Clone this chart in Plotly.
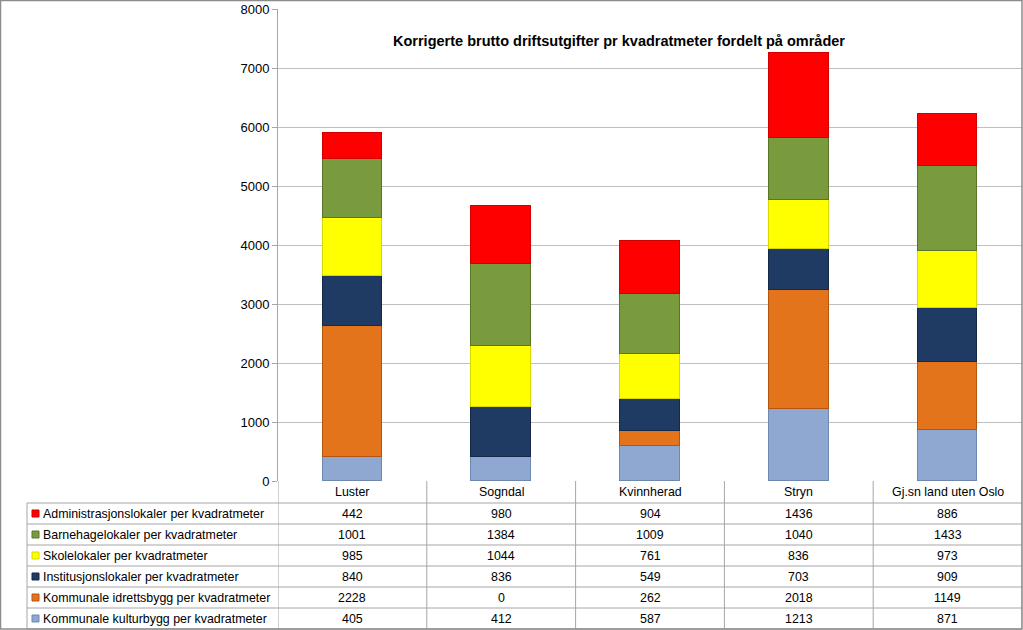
import plotly.graph_objects as go

# ---- data ----
categories = ["Luster", "Sogndal", "Kvinnherad", "Stryn", "Gj.sn land uten Oslo"]
kulturbygg = [405, 412, 587, 1213, 871]
idrettsbygg = [2228, 0, 262, 2018, 1149]
institusjon = [840, 836, 549, 703, 909]
skole = [985, 1044, 761, 836, 973]
barnehage = [1001, 1384, 1009, 1040, 1433]
administrasjon = [442, 980, 904, 1436, 886]

series_names = [
    "Kommunale kulturbygg per kvadratmeter",
    "Kommunale idrettsbygg per kvadratmeter",
    "Institusjonslokaler per kvadratmeter",
    "Skolelokaler per kvadratmeter",
    "Barnehagelokaler per kvadratmeter",
    "Administrasjonslokaler per kvadratmeter",
]
series_values = [kulturbygg, idrettsbygg, institusjon, skole, barnehage, administrasjon]
series_colors = ["#8FA8D2", "#E4741B", "#1F3A63", "#FFFF00", "#7A9A3E", "#FF0000"]
series_lines = ["#6F88B2", "#B5560E", "#142848", "#D8D800", "#5A7428", "#D00000"]

title_text = "Korrigerte brutto driftsutgifter pr kvadratmeter fordelt på områder"
ytick_vals = [0, 1000, 2000, 3000, 4000, 5000, 6000, 7000, 8000]

# ---- layout geometry (pixels) ----
W, H = 1023, 630
plot_left, plot_right = 278, 1022
plot_top, plot_bottom = 9, 481
table_left = 27
row_h = 21
header_bottom = 503
grid_col = "#A6A6A6"
font_family = "Liberation Sans, Arial, sans-serif"
fs = 12.4


def px(x):
    return x / W


def py(y):
    return 1 - y / H


fig = go.Figure()
for name, vals, col, lc in zip(series_names, series_values, series_colors, series_lines):
    fig.add_trace(go.Bar(
        x=categories, y=vals, name=name, width=0.4,
        marker=dict(color=col, line=dict(color=lc, width=1)),
    ))

shapes = []
annotations = []

# table horizontal lines
n_rows = len(series_names)
for i in range(n_rows + 1):
    y = header_bottom + i * row_h
    shapes.append(dict(type="line", xref="paper", yref="paper",
                       x0=px(table_left), x1=px(plot_right), y0=py(y), y1=py(y),
                       line=dict(color=grid_col, width=1)))
# table left border
shapes.append(dict(type="line", xref="paper", yref="paper",
                   x0=px(table_left), x1=px(table_left),
                   y0=py(header_bottom), y1=py(header_bottom + n_rows * row_h),
                   line=dict(color=grid_col, width=1)))
# column separators in table (category boundaries via x axis scale)
for i in range(len(categories) + 1):
    shapes.append(dict(type="line", xref="x", yref="paper",
                       x0=i - 0.5, x1=i - 0.5,
                       y0=py(plot_bottom), y1=py(header_bottom + n_rows * row_h),
                       line=dict(color=grid_col, width=1)))

# header labels
for c in categories:
    annotations.append(dict(text=c, x=c, xref="x", y=py((plot_bottom + header_bottom) / 2),
                            yref="paper", showarrow=False, xanchor="center", yanchor="middle",
                            font=dict(size=fs, color="black", family=font_family)))

# table rows (top row = last series)
for r, idx in enumerate(reversed(range(n_rows))):
    yc = header_bottom + r * row_h + row_h / 2
    # legend square
    shapes.append(dict(type="rect", xref="paper", yref="paper",
                       x0=px(32), x1=px(39), y0=py(yc + 3.5), y1=py(yc - 3.5),
                       fillcolor=series_colors[idx], line=dict(color=series_lines[idx], width=1)))
    annotations.append(dict(text=series_names[idx], x=px(41), xref="paper", y=py(yc),
                            yref="paper", showarrow=False, xanchor="left", yanchor="middle",
                            font=dict(size=fs, color="black", family=font_family)))
    for c, v in zip(categories, series_values[idx]):
        annotations.append(dict(text=str(v), x=c, xref="x", y=py(yc), yref="paper",
                                showarrow=False, xanchor="center", yanchor="middle",
                                font=dict(size=fs, color="black", family=font_family)))

# title
annotations.append(dict(text="<b>" + title_text + "</b>", x=px(619), xref="paper", y=py(41),
                        yref="paper", showarrow=False, xanchor="center", yanchor="middle",
                        font=dict(size=14.5, color="black", family=font_family)))

# outer frame
shapes.append(dict(type="rect", xref="paper", yref="paper",
                   x0=px(0.5), x1=px(W - 1), y0=py(H - 1), y1=py(0.5),
                   line=dict(color="#8C8C8C", width=1.5), fillcolor="rgba(0,0,0,0)"))

fig.update_layout(
    width=W, height=H,
    margin=dict(l=0, r=0, t=0, b=0, autoexpand=False),
    paper_bgcolor="white", plot_bgcolor="white",
    barmode="stack", bargap=0,
    showlegend=False,
    shapes=shapes, annotations=annotations,
    font=dict(family=font_family, color="black"),
    xaxis=dict(domain=[px(plot_left), px(plot_right)], range=[-0.5, 4.5],
               showticklabels=False, showgrid=False, zeroline=False,
               showline=False, fixedrange=True, automargin=False),
    yaxis=dict(domain=[py(plot_bottom), py(plot_top)], range=[0, 8000],
               tickvals=ytick_vals, ticks="outside", ticklen=5, tickcolor=grid_col,
               showgrid=True, gridcolor="#BFBFBF", gridwidth=1,
               showline=True, linecolor=grid_col, linewidth=1,
               zeroline=False, tickfont=dict(size=13, color="black", family=font_family),
               fixedrange=True, automargin=False),
)

fig.write_html("out.html")
